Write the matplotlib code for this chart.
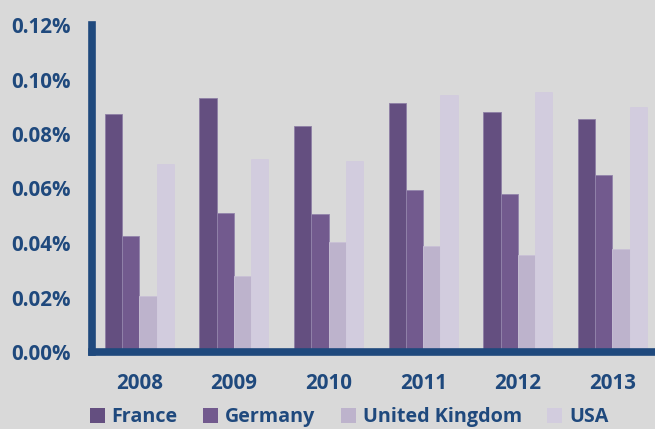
import matplotlib
matplotlib.use("Agg")
import matplotlib.pyplot as plt
import numpy as np
from matplotlib.ticker import FuncFormatter
from matplotlib.patches import Patch

years = ["2008", "2009", "2010", "2011", "2012", "2013"]
series = ["France", "Germany", "United Kingdom", "USA"]
france = [0.0873, 0.0932, 0.0829, 0.0914, 0.0881, 0.0855]
germany = [0.0426, 0.0510, 0.0506, 0.0594, 0.0580, 0.0650]
uk = [0.0206, 0.0279, 0.0404, 0.0389, 0.0356, 0.0378]
usa = [0.0690, 0.0708, 0.0700, 0.0943, 0.0954, 0.0899]
values = [france, germany, uk, usa]
colors = ["#644F80", "#725A8E", "#BDB3CC", "#D2CCDE"]
edges = ["#8E7FA5", "#9384AB", "#C9C1D6", "#D2CCDE"]

TXT = "#1F497D"
BG = "#D9D9D9"
plt.rcParams['font.family'] = ['Open Sans', 'DejaVu Sans']

fig = plt.figure(figsize=(6.55, 4.29), dpi=100, facecolor=BG)
ax = fig.add_axes([92/655, (429-352)/429, 1 - 92/655, (352-25)/429])
ax.set_facecolor(BG)

x = np.arange(len(years))
w = 0.182
for i, (vals, c, e) in enumerate(zip(values, colors, edges)):
    ax.bar(x + (i - 1.5) * w, vals, width=w, color=c, edgecolor=e, linewidth=0.6,
           label=series[i], zorder=2)

ax.set_xlim(-0.5, 5.45)
ax.set_ylim(0, 0.12)
ax.set_yticks(np.arange(0, 0.1201, 0.02))
ax.yaxis.set_major_formatter(FuncFormatter(lambda v, p: f"{v:.2f}%"))
ax.set_xticks(x)
ax.set_xticklabels(years)

for s in ["top", "right"]:
    ax.spines[s].set_visible(False)
for s in ["left", "bottom"]:
    ax.spines[s].set_color(TXT)
    ax.spines[s].set_linewidth(5.5)
    ax.spines[s].set_zorder(3)

ax.tick_params(axis="both", length=0, labelcolor=TXT, labelsize=14.8)
ax.tick_params(axis="y", pad=15)
ax.tick_params(axis="x", pad=15)
for lab in ax.get_xticklabels() + ax.get_yticklabels():
    lab.set_fontweight("bold")

handles = [Patch(facecolor=c, edgecolor="none") for c in colors]
leg = fig.legend(handles, series, loc="center", bbox_to_anchor=(0.533, 0.027), ncol=4,
                 frameon=False, handlelength=0.75, handleheight=0.75, handletextpad=0.35,
                 columnspacing=1.3, prop={"weight": "bold", "size": 14.2})
for t in leg.get_texts():
    t.set_color(TXT)

fig.savefig("out.png", dpi=100, facecolor=BG)
